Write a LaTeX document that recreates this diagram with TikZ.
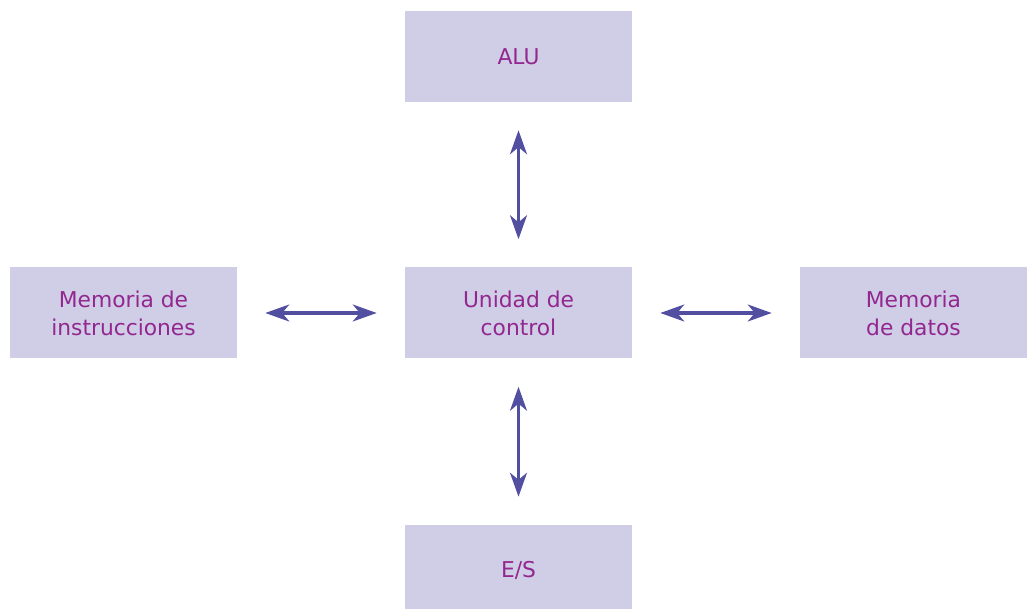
\documentclass[tikz,border=0pt]{standalone}
\usepackage{fontspec}
\setmainfont{DejaVu Sans}
\usetikzlibrary{arrows.meta}
\definecolor{cajafondo}{HTML}{D0CDE6}
\definecolor{textomorado}{HTML}{92278F}
\definecolor{flechaazul}{HTML}{524FA1}

\begin{document}
\begin{tikzpicture}[
caja/.style={fill=cajafondo,minimum width=5.675cm,minimum height=2.275cm,
  align=center,text=textomorado,font=\fontsize{15.5}{20}\selectfont},
flecha/.style={flechaazul,line width=2.4pt,
  {Stealth[length=17pt,width=12pt,inset=5pt]}-{Stealth[length=17pt,width=12pt,inset=5pt]},
  shorten <=0.7cm,shorten >=0.7cm}
]
\useasboundingbox (0,0) rectangle (25.825,-15.225);
\begin{scope}
\clip (0,0) rectangle (25.825,-15.225);
\node[caja](uc) at (12.9625,-7.825){Unidad de\\control};
\node[caja](alu) at (12.9625,-1.4125){ALU};
\node[caja](mi) at (3.0875,-7.825){Memoria de\\instrucciones};
\node[caja](md) at (22.8375,-7.825){Memoria\\de datos};
\node[caja](es) at (12.9625,-14.2625){E/S};
\end{scope}
\draw[flecha](alu)--(uc);
\draw[flecha](uc)--(es);
\draw[flecha](mi)--(uc);
\draw[flecha](uc)--(md);
\end{tikzpicture}
\end{document}
